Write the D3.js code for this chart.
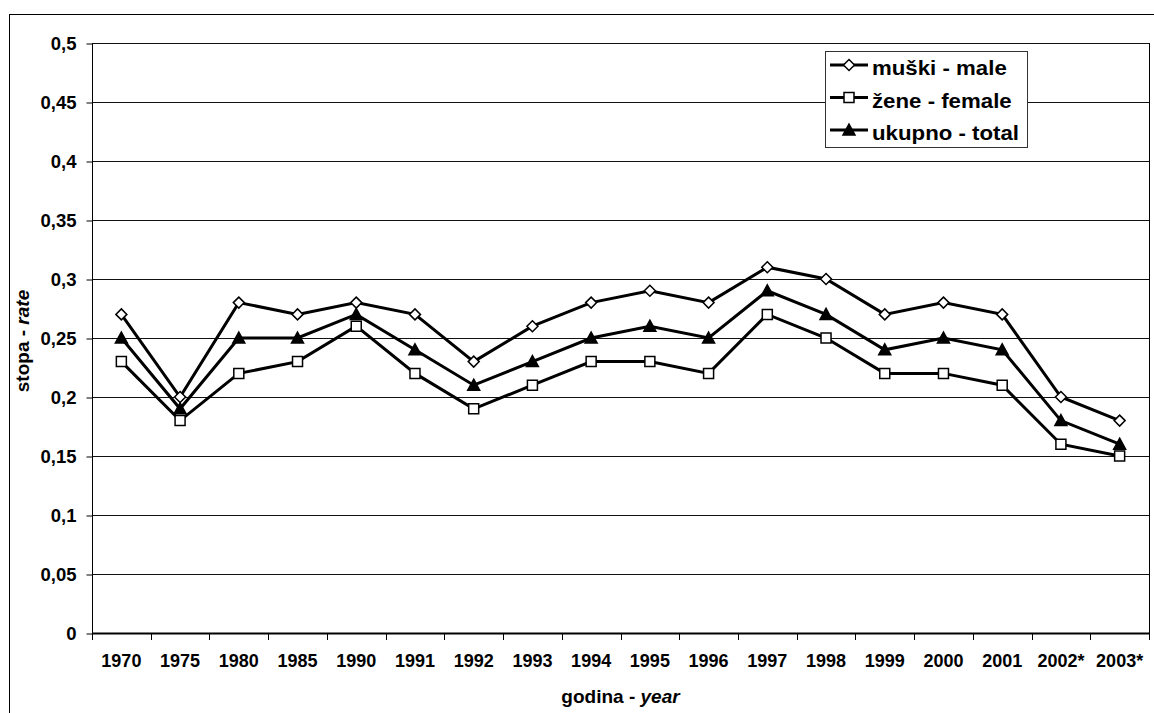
<!DOCTYPE html>
<html><head><meta charset="utf-8">
<script src="https://cdn.jsdelivr.net/npm/d3@7"></script>
<style>
body{margin:0;background:#fff}
svg{display:block}
text{font-family:"Liberation Sans",Arial,sans-serif;font-weight:bold;fill:#000}
.lgtext{transform-box:fill-box;transform-origin:left center;transform:scaleX(1.06)}
</style>
</head><body>
<svg id="c" width="1154" height="713"></svg>
<script>
const years = ["1970","1975","1980","1985","1990","1991","1992","1993","1994","1995","1996","1997","1998","1999","2000","2001","2002*","2003*"];
const male   = [0.27,0.20,0.28,0.27,0.28,0.27,0.23,0.26,0.28,0.29,0.28,0.31,0.30,0.27,0.28,0.27,0.20,0.18];
const female = [0.23,0.18,0.22,0.23,0.26,0.22,0.19,0.21,0.23,0.23,0.22,0.27,0.25,0.22,0.22,0.21,0.16,0.15];
const total  = [0.25,0.19,0.25,0.25,0.27,0.24,0.21,0.23,0.25,0.26,0.25,0.29,0.27,0.24,0.25,0.24,0.18,0.16];
const yTicks = [0,0.05,0.1,0.15,0.2,0.25,0.3,0.35,0.4,0.45,0.5];
const seriesNames = ["muški - male","žene - female","ukupno - total"];
const xTitle = ["godina - ","year"];
const yTitle = ["stopa - ","rate"];

const svg = d3.select("#c");
const L = 92, R = 1149, T = 43, B = 633;
const x = d3.scaleBand().domain(years).range([L, R]);
const y = d3.scaleLinear().domain([0, 0.5]).range([B, T]);
const loc = d3.formatLocale({decimal:",", thousands:".", grouping:[3], currency:["",""]});
const fmt = loc.format("~g");

// outer border
svg.append("rect").attr("x",9.5).attr("y",14.5).attr("width",1160).attr("height",720)
  .attr("fill","none").attr("stroke","#000").attr("stroke-width",1);

// gridlines
svg.append("g").selectAll("line").data(yTicks.filter(v=>v>0)).join("line")
  .attr("x1",L).attr("x2",R)
  .attr("y1",d=>Math.round(y(d))+0.5).attr("y2",d=>Math.round(y(d))+0.5)
  .attr("stroke","#111").attr("stroke-width",1);

// plot right border
svg.append("line").attr("x1",R+0.5).attr("x2",R+0.5).attr("y1",T).attr("y2",B)
  .attr("stroke","#000").attr("stroke-width",1);

// y axis
const ya = svg.append("g").attr("transform",`translate(${L+0.5},0)`)
  .call(d3.axisLeft(y).tickValues(yTicks).tickSize(6).tickPadding(10).tickFormat(fmt));
ya.select(".domain").remove();
ya.selectAll(".tick line").attr("stroke","#000").attr("transform","translate(0,0.5)");
ya.selectAll(".tick text").attr("font-size",18.5).attr("font-family",null).attr("dy","0.36em");
svg.append("line").attr("x1",L+0.5).attr("x2",L+0.5).attr("y1",T).attr("y2",B)
  .attr("stroke","#000").attr("stroke-width",1);

// x axis labels
const xa = svg.append("g").attr("transform",`translate(0,${B})`)
  .call(d3.axisBottom(x).tickSize(0).tickPadding(21));
xa.select(".domain").remove();
xa.selectAll(".tick text").attr("font-size",18).attr("font-family",null);
// x ticks at band boundaries
const bounds = years.map(d=>x(d)).concat([x(years[years.length-1])+x.step()]);
svg.append("g").selectAll("line").data(bounds).join("line")
  .attr("x1",d=>Math.round(d)+0.5).attr("x2",d=>Math.round(d)+0.5)
  .attr("y1",B).attr("y2",B+7).attr("stroke","#000").attr("stroke-width",1);
svg.append("line").attr("x1",L).attr("x2",R+1).attr("y1",B+0.5).attr("y2",B+0.5)
  .attr("stroke","#000").attr("stroke-width",2);

// axis titles
const xt = svg.append("text").attr("x",(L+R)/2).attr("y",703).attr("text-anchor","middle").attr("font-size",19);
xt.append("tspan").text(xTitle[0]);
xt.append("tspan").attr("font-style","italic").text(xTitle[1]);
const yt = svg.append("text").attr("transform",`translate(29,${(T+B)/2+3}) rotate(-90)`)
  .attr("text-anchor","middle").attr("font-size",19);
yt.append("tspan").text(yTitle[0]);
yt.append("tspan").attr("font-style","italic").text(yTitle[1]);

// markers
const diamond = "M0,-5.5L5.5,0L0,5.5L-5.5,0Z";
const square = "M-5,-5H5V5H-5Z";
const tri = "M0,-6L6,5H-6Z";
const series = [
  {vals: male, path: diamond, fill:"#fff"},
  {vals: female, path: square, fill:"#fff"},
  {vals: total, path: tri, fill:"#000"}
];
const line = d3.line().x((d,i)=>x(years[i])+x.bandwidth()/2).y(d=>y(d));
series.forEach(s=>{
  svg.append("path").attr("d",line(s.vals)).attr("fill","none")
    .attr("stroke","#000").attr("stroke-width",3).attr("stroke-linejoin","miter");
});
series.forEach(s=>{
  svg.append("g").selectAll("path").data(s.vals).join("path")
    .attr("transform",(d,i)=>`translate(${x(years[i])+x.bandwidth()/2},${y(d)})`)
    .attr("d",s.path).attr("fill",s.fill).attr("stroke","#000").attr("stroke-width",1.5);
});

// legend
const lg = svg.append("g");
lg.append("rect").attr("x",825.5).attr("y",51.5).attr("width",202).attr("height",96)
  .attr("fill","#fff").attr("stroke","#333").attr("stroke-width",1);
series.forEach((s,i)=>{
  const cy = 65 + 32.5*i;
  lg.append("line").attr("x1",830).attr("x2",868).attr("y1",cy).attr("y2",cy)
    .attr("stroke","#000").attr("stroke-width",3);
  lg.append("path").attr("transform",`translate(849,${cy})`).attr("d",s.path)
    .attr("fill",s.fill).attr("stroke","#000").attr("stroke-width",1.5);
  lg.append("text").attr("class","lgtext").attr("x",872).attr("y",cy+10.5).attr("font-size",21).text(seriesNames[i]);
});
</script>
</body></html>
